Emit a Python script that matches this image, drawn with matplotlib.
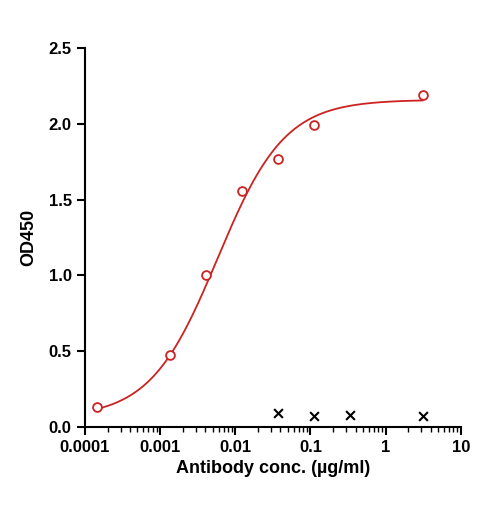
import numpy as np
import matplotlib
matplotlib.use("Agg")
import matplotlib.pyplot as plt

plt.rcParams['font.family'] = ['Liberation Sans', 'DejaVu Sans']

# measured points
conc = [0.000145, 0.00136, 0.0041, 0.0124, 0.0374, 0.113, 3.1]
od = [0.13, 0.475, 1.0, 1.56, 1.77, 1.99, 2.19]
# negative control
ctrl_conc = [0.0374, 0.113, 0.34, 3.1]
ctrl_od = [0.09, 0.07, 0.08, 0.07]

# 4PL fit parameters
bottom, top, ec50, hill = 0.06, 2.16, 0.0058, 0.97

fig = plt.figure(figsize=(4.85, 5.08), dpi=100)
ax = fig.add_axes([0.175, 0.16, 0.775, 0.745])

xs = np.logspace(np.log10(0.000145), np.log10(3.1), 300)
ys = bottom + (top - bottom) / (1 + (ec50 / xs) ** hill)
ax.plot(xs, ys, color='#cc2222', lw=1.3)
ax.scatter(conc, od, s=40, facecolors='white', edgecolors='#cc2222', linewidths=1.3, zorder=3)
ax.scatter(ctrl_conc, ctrl_od, s=40, marker='x', color='black', linewidths=1.5, zorder=3)

ax.set_xscale('log')
ax.set_xlim(0.0001, 10)
ax.set_ylim(0, 2.5)
ax.set_xticks([0.0001, 0.001, 0.01, 0.1, 1, 10])
ax.set_xticklabels(['0.0001', '0.001', '0.01', '0.1', '1', '10'])
ax.set_yticks([0, 0.5, 1.0, 1.5, 2.0, 2.5])
ax.set_yticklabels(['0.0', '0.5', '1.0', '1.5', '2.0', '2.5'])
for s in ['top', 'right']:
    ax.spines[s].set_visible(False)
for s in ['left', 'bottom']:
    ax.spines[s].set_linewidth(1.5)
ax.tick_params(which='major', direction='out', width=1.5, length=6, labelsize=12)
ax.tick_params(which='minor', direction='out', width=1.0, length=3.5)
for lab in ax.get_xticklabels() + ax.get_yticklabels():
    lab.set_fontweight('bold')
ax.set_xlabel('Antibody conc. (µg/ml)', fontsize=13, fontweight='bold')
ax.set_ylabel('OD450', fontsize=13, fontweight='bold', labelpad=8)

fig.savefig('out.png', dpi=100)
